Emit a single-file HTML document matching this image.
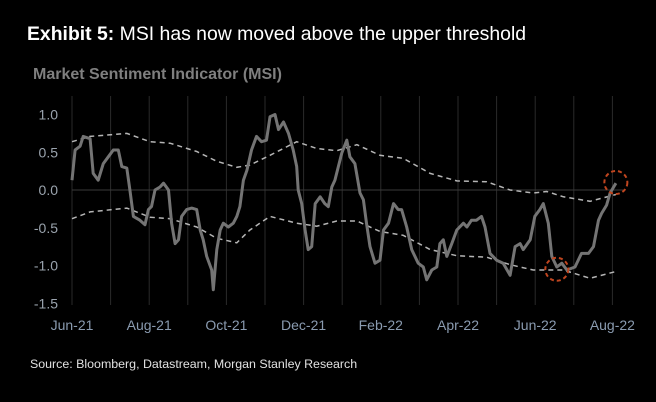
<!DOCTYPE html>
<html><head><meta charset="utf-8"><style>
body{margin:0;background:#000;width:656px;height:402px;overflow:hidden;font-family:"Liberation Sans",Arial,sans-serif}
svg{display:block}
</style></head><body>
<svg id="c" width="656" height="402">
<text x="27" y="40" fill="#fff" font-size="19.4"><tspan font-weight="bold">Exhibit 5:</tspan>  MSI has now moved above the upper threshold</text>
<text x="33" y="79" fill="#7f7f7f" font-size="16" font-weight="bold">Market Sentiment Indicator (MSI)</text>
<text x="30" y="368" fill="#e0e0e0" font-size="12.4">Source: Bloomberg, Datastream, Morgan Stanley Research</text>
<g id="grid"></g><g id="marks"></g>
</svg>
<script>
const xTickLabels=["Jun-21","Aug-21","Oct-21","Dec-21","Feb-22","Apr-22","Jun-22","Aug-22"];
const yTicks=[1.0,0.5,0.0,-0.5,-1.0,-1.5];
const msiMonths=[0,0.08,0.21,0.29,0.47,0.55,0.68,0.81,0.94,1.07,1.2,1.29,1.42,1.5,1.59,1.76,1.89,1.98,2.06,2.15,2.28,2.37,2.5,2.58,2.67,2.76,2.84,2.97,3.1,3.23,3.32,3.4,3.49,3.62,3.66,3.75,3.84,3.92,4.05,4.18,4.27,4.35,4.44,4.53,4.65,4.78,4.91,5.04,5.13,5.26,5.35,5.48,5.61,5.73,5.82,5.86,5.95,6.04,6.12,6.21,6.3,6.43,6.55,6.64,6.73,6.81,6.99,7.12,7.2,7.33,7.46,7.55,7.63,7.72,7.85,7.98,8.07,8.2,8.33,8.45,8.54,8.67,8.8,8.97,9.1,9.19,9.32,9.45,9.53,9.62,9.71,9.84,9.97,10.14,10.23,10.35,10.48,10.61,10.7,10.83,11,11.17,11.35,11.48,11.61,11.69,11.87,11.99,12.12,12.21,12.34,12.43,12.56,12.69,12.82,13.03,13.2,13.38,13.51,13.64,13.72,13.85,13.94,14.09];
const msiValues=[0.13,0.53,0.58,0.71,0.68,0.22,0.13,0.35,0.44,0.53,0.53,0.31,0.29,0,-0.35,-0.4,-0.46,-0.26,-0.22,0,0.04,0.09,0,-0.44,-0.71,-0.66,-0.35,-0.26,-0.24,-0.26,-0.53,-0.66,-0.88,-1.06,-1.32,-0.79,-0.53,-0.44,-0.49,-0.44,-0.35,-0.22,0.13,0.26,0.53,0.71,0.64,0.66,0.97,1.0,0.8,0.9,0.75,0.53,0.31,0,-0.18,-0.53,-0.79,-0.75,-0.18,-0.09,-0.18,-0.22,0.04,0.13,0.49,0.66,0.44,0.35,-0.04,-0.13,-0.44,-0.75,-0.97,-0.93,-0.53,-0.44,-0.18,-0.26,-0.26,-0.49,-0.79,-0.97,-1.02,-1.19,-1.06,-1.02,-0.71,-0.66,-0.88,-0.71,-0.53,-0.44,-0.49,-0.4,-0.4,-0.35,-0.49,-0.84,-0.93,-0.97,-1.13,-0.75,-0.71,-0.79,-0.66,-0.35,-0.26,-0.18,-0.44,-0.88,-1.02,-0.97,-1.06,-1.02,-0.84,-0.84,-0.75,-0.4,-0.31,-0.2,-0.04,0.09];
const bandMonths=[0,0.47,1.42,2.02,2.54,3.23,3.75,4.27,4.61,5.13,5.82,6.34,6.86,7.38,7.98,8.58,9.28,9.97,10.74,11.35,11.95,12.3,12.73,13.42,14.09];
const upperBand=[0.64,0.71,0.75,0.64,0.62,0.51,0.38,0.3,0.33,0.46,0.64,0.55,0.52,0.6,0.46,0.42,0.22,0.12,0.11,0,-0.04,-0.02,-0.09,-0.15,-0.06];
const lowerBand=[-0.38,-0.29,-0.24,-0.36,-0.38,-0.49,-0.64,-0.7,-0.53,-0.35,-0.44,-0.48,-0.41,-0.41,-0.55,-0.6,-0.79,-0.87,-0.89,-0.99,-1.06,-1.06,-1.06,-1.17,-1.08];
const circleMonths=[12.56,14.09];
const circleValues=[-1.05,0.1];
const X=m=>72+m*38.6, Y=v=>190-v*75.5;
const NS="http://www.w3.org/2000/svg";
const g=document.getElementById('grid'), mk=document.getElementById('marks');
function el(t,a,p){const e=document.createElementNS(NS,t);for(const k in a)e.setAttribute(k,a[k]);p.appendChild(e);return e;}
for(let i=0;i<=14;i++){const l=el('line',{x1:X(i),x2:X(i),y1:96,y2:305,stroke:'#2a2a2a','stroke-width':1},g);

}
xTickLabels.forEach((t,i)=>{const e=el('text',{x:X(i*2),y:330,fill:'#8a9bb0','font-size':14,'text-anchor':'middle'},g);e.textContent=t;

});
yTicks.forEach(v=>{const e=el('text',{x:58,y:Y(v)+5,fill:'#9aa3ad','font-size':14,'text-anchor':'end'},g);e.textContent=v.toFixed(1);

});
const z=el('line',{x1:72,x2:625,y1:Y(0),y2:Y(0),stroke:'#3a3a3a','stroke-width':1},g);


const pts=(ms,vs)=>ms.map((m,i)=>X(m).toFixed(1)+','+Y(vs[i]).toFixed(1)).join(' ');
const u=el('polyline',{points:pts(bandMonths,upperBand),fill:'none',stroke:'#b5b5b5','stroke-width':1.5,'stroke-dasharray':'5,4'},mk);


const lo=el('polyline',{points:pts(bandMonths,lowerBand),fill:'none',stroke:'#b5b5b5','stroke-width':1.5,'stroke-dasharray':'5,4'},mk);


const ms=el('polyline',{points:pts(msiMonths,msiValues),fill:'none',stroke:'#747474','stroke-width':3,'stroke-linejoin':'round'},mk);


circleMonths.forEach((m,i)=>{const c=el('circle',{cx:X(m),cy:Y(circleValues[i]),r:11.5,fill:'none',stroke:'#c0451f','stroke-width':2,'stroke-dasharray':'4,3'},mk);

});
</script>
</body></html>
